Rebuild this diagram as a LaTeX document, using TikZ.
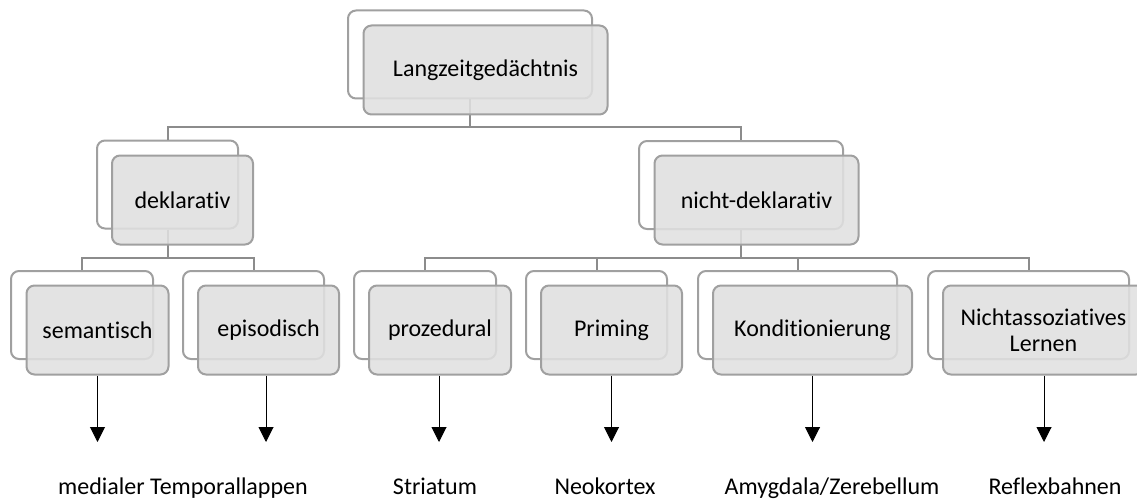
\documentclass[tikz,border=0pt]{standalone}
\usepackage{fontspec}
\setmainfont{Carlito}[Ligatures=NoCommon]
\usetikzlibrary{arrows.meta}
\definecolor{boxline}{RGB}{160,160,160}
\definecolor{boxfill}{RGB}{224,224,224}
\definecolor{connline}{RGB}{140,140,140}
\tikzset{
  backbox/.style={draw=boxline, line width=2pt, fill=white, rounded corners=8pt,
    minimum height=88pt, inner sep=0pt},
  frontbox/.style={draw=boxline, line width=2pt, fill=boxfill, fill opacity=0.88,
    text opacity=1, rounded corners=8pt, minimum height=89pt, inner sep=0pt,
    align=center, font=\fontsize{24}{25.5}\selectfont},
  conn/.style={draw=connline, line width=2pt},
  arr/.style={draw=black, line width=1pt, -{Triangle[width=15pt,length=15pt]}},
  lbl/.style={font=\fontsize{24}{25.5}\selectfont, inner sep=0pt, anchor=base}
}
\begin{document}
\begin{tikzpicture}[x=1pt,y=-1pt]
\useasboundingbox (0,0) rectangle (1137,500);
% back boxes
\node[backbox, minimum width=244pt] (topB) at (470,54.5) {};
\node[backbox, minimum width=141pt] (dekB) at (167.5,184.5) {};
\node[backbox, minimum width=204pt] (ndekB) at (741,185) {};
\node[backbox, minimum width=142pt] (semB) at (82,315) {};
\node[backbox, minimum width=141pt] (epiB) at (253.5,315) {};
\node[backbox, minimum width=142pt] (proB) at (425,315) {};
\node[backbox, minimum width=141pt] (priB) at (596.5,315) {};
\node[backbox, minimum width=199pt] (konB) at (797.5,315) {};
\node[backbox, minimum width=201pt] (nasB) at (1028.5,315) {};
% connectors
\draw[conn] (topB.south) -- ++(0,28) -| (dekB.north);
\draw[conn] (topB.south) -- ++(0,28) -| (ndekB.north);
\draw[conn] (dekB.south) -- ++(0,28) -| (semB.north);
\draw[conn] (dekB.south) -- ++(0,28) -| (epiB.north);
\draw[conn] (ndekB.south) -- ++(0,28) -| (proB.north);
\draw[conn] (ndekB.south) -- ++(0,28) -| (priB.north);
\draw[conn] (ndekB.south) -- ++(0,28) -| (konB.north);
\draw[conn] (ndekB.south) -- ++(0,28) -| (nasB.north);
% front boxes
\node[frontbox, minimum width=244pt] (topF) at (485.5,70) {Langzeitgedächtnis};
\node[frontbox, minimum width=141pt] (dekF) at (182.5,200) {deklarativ};
\node[frontbox, minimum width=204pt] (ndekF) at (756.5,200) {nicht-deklarativ};
\node[frontbox, minimum width=142pt] (semF) at (97.5,330) {semantisch};
\node[frontbox, minimum width=141pt] (epiF) at (268.5,330) {episodisch};
\node[frontbox, minimum width=142pt] (proF) at (440,330) {prozedural};
\node[frontbox, minimum width=141pt] (priF) at (611.5,330) {Priming};
\node[frontbox, minimum width=199pt] (konF) at (812.5,330) {Konditionierung};
\node[frontbox, minimum width=201pt] (nasF) at (1043.5,330) {Nichtassoziatives\\Lernen};
% arrow ends
\coordinate (semE) at (97.5,442);
\coordinate (epiE) at (266,442);
\coordinate (proE) at (439,442);
\coordinate (priE) at (611.5,442);
\coordinate (konE) at (812.5,442);
\coordinate (nasE) at (1044,442);
\draw[arr] (semF.south -| semE) -- (semE);
\draw[arr] (epiF.south -| epiE) -- (epiE);
\draw[arr] (proF.south -| proE) -- (proE);
\draw[arr] (priF.south -| priE) -- (priE);
\draw[arr] (konF.south -| konE) -- (konE);
\draw[arr] (nasF.south -| nasE) -- (nasE);
% labels
\node[lbl] (l1) at (183,494) {medialer Temporallappen};
\node[lbl] (l2) at (435,494) {Striatum};
\node[lbl] (l3) at (605,494) {Neokortex};
\node[lbl] (l4) at (832,494) {Amygdala/Zerebellum};
\node[lbl] (l5) at (1055,494) {Reflexbahnen};
\end{tikzpicture}
\end{document}
